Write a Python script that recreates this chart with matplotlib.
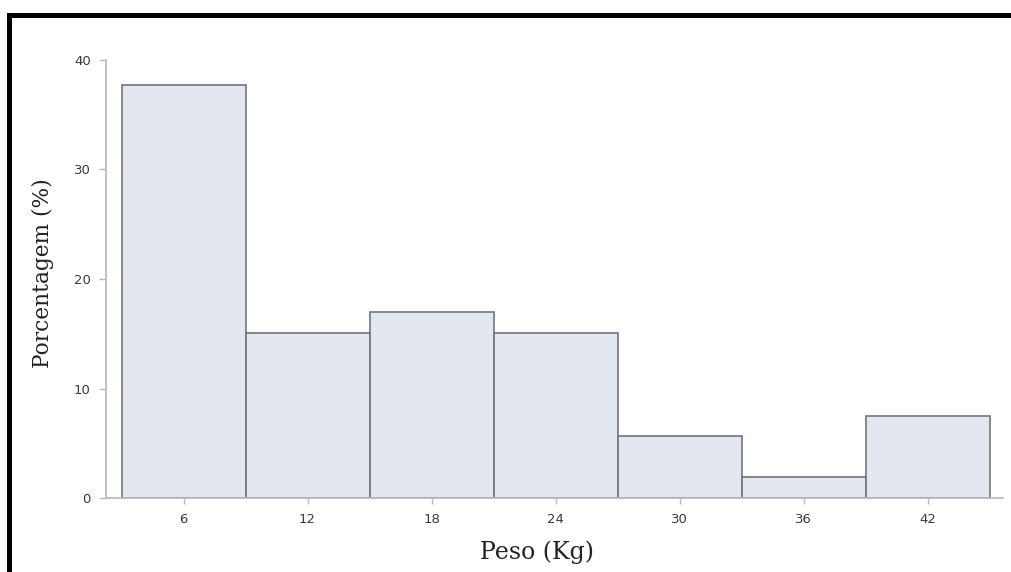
import matplotlib
matplotlib.use("Agg")
import matplotlib.pyplot as plt
from matplotlib.patches import Rectangle

# histogram of weights, bins 6 kg wide centred on the tick values
bin_centers = [6, 12, 18, 24, 30, 36, 42]
percent = [37.7, 15.1, 17.0, 15.1, 5.7, 1.9, 7.5]
bin_width = 6
y_ticks = [0, 10, 20, 30, 40]

fig = plt.figure(figsize=(10.12, 5.72), dpi=100)
ax = fig.add_axes([106 / 1012, 1 - 498 / 572, 897 / 1012, 438 / 572])

ax.bar(bin_centers, percent, width=bin_width, color="#e3e7f0",
       edgecolor="#6f747c", linewidth=1.2, zorder=2)

ax.set_xlim(2.25, 45.65)
ax.set_ylim(0, 40)
ax.set_xticks(bin_centers)
ax.set_yticks(y_ticks)

for side in ("top", "right"):
    ax.spines[side].set_visible(False)
for side in ("left", "bottom"):
    ax.spines[side].set_color("#b5b8bd")
    ax.spines[side].set_linewidth(1.2)

ax.tick_params(axis="both", colors="#b5b8bd", labelcolor="#3a3a3a",
               labelsize=9.5, width=1)
ax.tick_params(axis="y", length=5, pad=6)
ax.tick_params(axis="x", length=4, pad=7)

serif = ["DejaVu Serif"]
ax.set_xlabel("Peso (Kg)", family=serif, fontsize=17, color="#222222")
ax.set_ylabel("Porcentagem (%)", family=serif, fontsize=15.6, color="#222222")
ax.xaxis.set_label_coords((537 - 106) / 897, -(540 - 498) / 438)
ax.yaxis.set_label_coords((54 - 106) / 897, 1 - (273 - 60) / 438)

# black frame on top and left edge of the image
fig.add_artist(Rectangle((7 / 1012, 1 - 18 / 572), 1, 5 / 572,
                         transform=fig.transFigure, color="black", lw=0))
fig.add_artist(Rectangle((7 / 1012, 0), 5 / 1012, 1 - 13 / 572,
                         transform=fig.transFigure, color="black", lw=0))

fig.savefig("out.png", dpi=100)
